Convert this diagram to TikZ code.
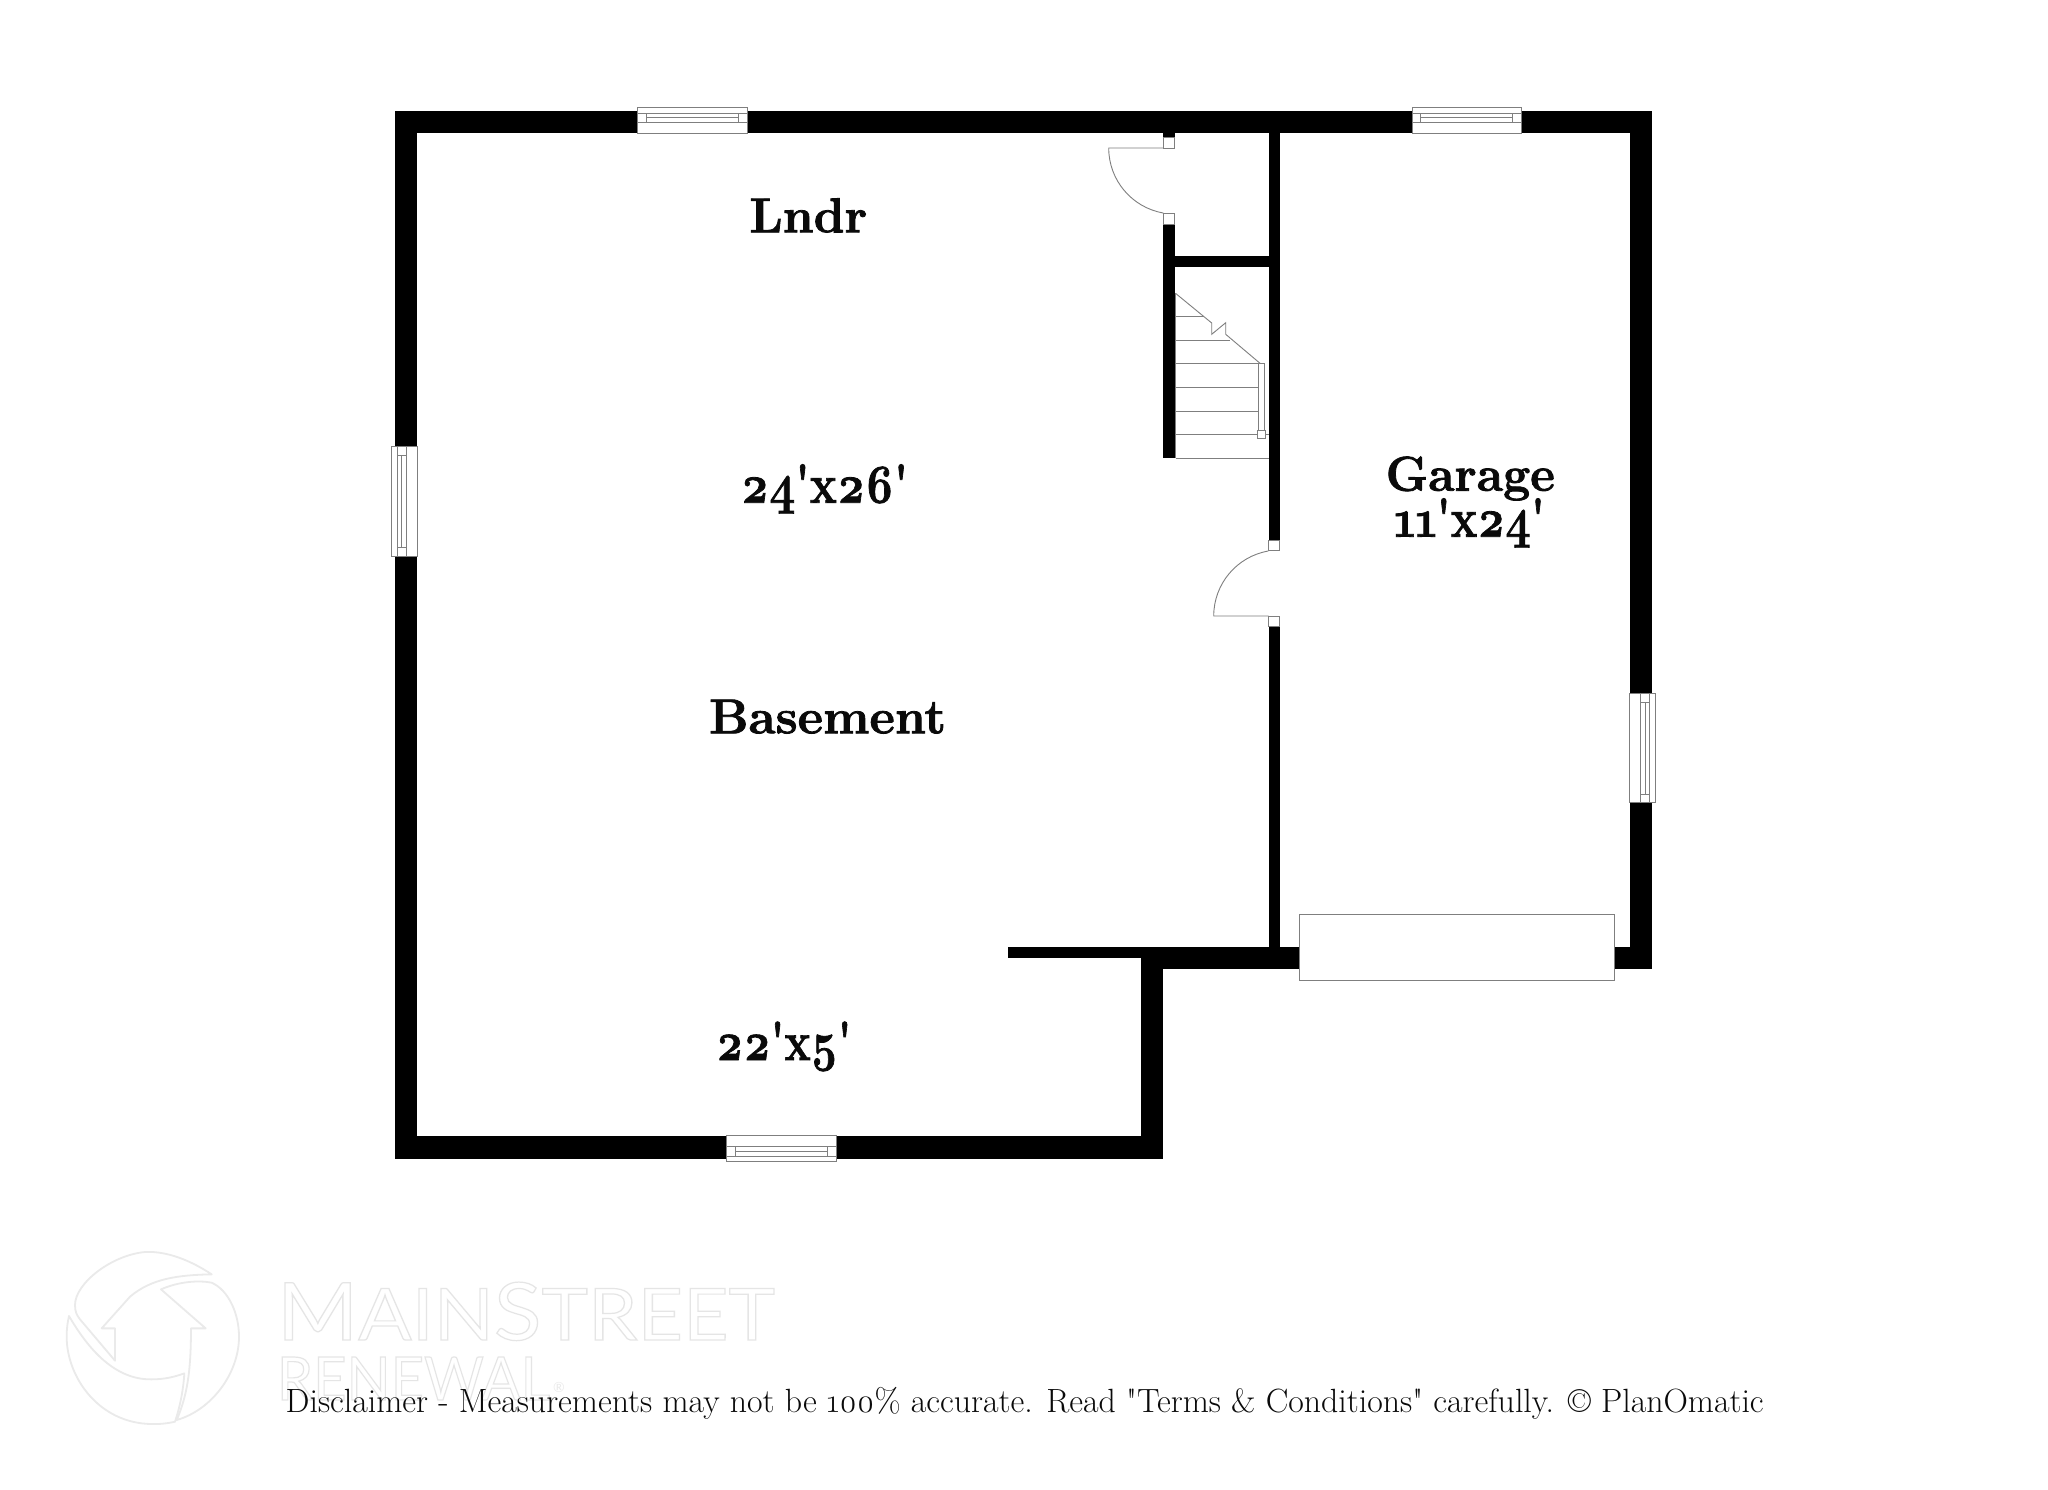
\documentclass[tikz,border=0pt]{standalone}
\usepackage{fontspec}
\usepackage{graphicx}
\newfontfamily\planfont{Latin Modern Roman}[Numbers=OldStyle]
\newfontfamily\markfont{Lato}
\newcommand{\fitw}[2]{\resizebox{#1}{\height}{#2}}
\newcommand{\outl}[1]{\special{pdf:code q 1 Tr 0.6 w 0.90 0.90 0.90 RG}#1\special{pdf:code Q}}
\newcommand{\heavy}[1]{\special{pdf:code q 2 Tr 0.4 w 0.04 0.04 0.04 RG}#1\special{pdf:code Q}}
\definecolor{edgegray}{HTML}{7F7F7F}
\definecolor{markgray}{HTML}{EAEAEA}
\definecolor{inkblack}{HTML}{0A0A0A}
\tikzset{
  wall/.style={fill=black,draw=none},
  fixture/.style={draw=edgegray,fill=white,line width=0.5pt},
  thinline/.style={draw=edgegray,line width=0.45pt},
  room/.style={inner sep=0pt,outer sep=0pt,anchor=base west,text=inkblack,font=\planfont\bfseries\fontsize{24.5}{24.5}\selectfont},
  dims/.style={inner sep=0pt,outer sep=0pt,anchor=base west,text=inkblack,font=\planfont\bfseries\fontsize{27.5}{27.5}\selectfont},
  note/.style={inner sep=0pt,outer sep=0pt,anchor=base west,text=inkblack,font=\planfont\fontsize{16.8}{16.8}\selectfont},
  brand/.style={inner sep=0pt,outer sep=0pt,anchor=base west,font=\markfont},
  swirl/.style={draw=markgray,line width=0.9pt,line join=round}
}
\begin{document}
\begin{tikzpicture}[x=0.5pt,y=-0.5pt]
\useasboundingbox (0,0) rectangle (2048,1489);
\fill[white] (0,0) rectangle (2048,1489);
% watermark logo
\begin{scope}[shift={(55,1240)},x=0.16667pt,y=-0.16667pt]
\draw[swirl] (470,103) .. controls (390,50) and (320,33) .. (270,36)
  .. controls (170,45) and (60,130) .. (60,195) .. controls (60,215) and (65,225) .. (75,238)
  -- (180,362) -- (180,265) -- (140,265) -- (225,170) .. controls (290,115) and (370,105) .. (470,103) -- cycle;
\draw[swirl] (318,148) .. controls (370,125) and (430,120) .. (470,128)
  .. controls (520,150) and (552,220) .. (552,290) .. controls (552,400) and (470,510) .. (365,540)
  .. controls (395,470) and (408,400) .. (408,265) -- (452,265) -- cycle;
\draw[swirl] (42,228) .. controls (90,310) and (170,420) .. (290,418)
  .. controls (330,418) and (360,410) .. (388,400) .. controls (385,450) and (375,500) .. (360,545)
  .. controls (340,550) and (310,553) .. (290,552) .. controls (130,550) and (35,410) .. (35,290)
  .. controls (35,265) and (38,245) .. (42,228) -- cycle;
\end{scope}
\node[brand] (wmMain) at (277,1340) {\fitw{249pt}{\outl{\fontsize{40}{40}\selectfont M\fontsize{36}{36}\selectfont AIN\fontsize{40}{40}\selectfont S\fontsize{36}{36}\selectfont TREET}}};
\node[brand] (wmRenewal) at (277,1400) {\fitw{136.5pt}{\outl{\fontsize{30}{30}\selectfont RENEWAL}}};
\node[brand,text=markgray,anchor=center,font=\markfont\fontsize{7}{7}\selectfont] (wmReg) at (559,1387) {®};
% walls
\fill[wall] (394.7,110.7) rectangle (1651.7,133);
\fill[wall] (394.7,110.7) rectangle (417,1158.7);
\fill[wall] (1629.5,110.7) rectangle (1651.7,969.3);
\fill[wall] (394.7,1135.7) rectangle (1163.3,1158.7);
\fill[wall] (1141,946.7) rectangle (1163.3,1158.7);
\fill[wall] (1008,946.7) rectangle (1163,958.3);
\fill[wall] (1141,946.7) rectangle (1651.7,969.3);
\fill[wall] (1268.5,133) rectangle (1279.7,540);
\fill[wall] (1268.5,626.7) rectangle (1279.7,946.7);
\fill[wall] (1163,133) rectangle (1174.7,137.3);
\fill[wall] (1163,224) rectangle (1174.7,458.3);
\fill[wall] (1174.7,256) rectangle (1268.5,267.3);
% windows: top
\foreach \xa/\xb/\xc/\xd in {637.7/747/646.7/738.7,1412.3/1521.3/1420.7/1512.7}{
  \draw[fixture] (\xa,107.3) rectangle (\xb,133);
  \draw[thinline] (\xa,113.3) -- (\xb,113.3) (\xa,122.3) -- (\xb,122.3);
  \draw[thinline] (\xc,113.3) -- (\xc,122.3) (\xd,113.3) -- (\xd,122.3) (\xc,117.7) -- (\xd,117.7);
}
% window: bottom
\draw[fixture] (726.7,1135.7) rectangle (836,1161.7);
\draw[thinline] (726.7,1146.7) -- (836,1146.7) (726.7,1156) -- (836,1156);
\draw[thinline] (735.3,1146.7) -- (735.3,1156) (827,1146.7) -- (827,1156) (735.3,1151) -- (827,1151);
% window: left
\draw[fixture] (391.3,446.3) rectangle (417,556);
\draw[thinline] (397,446.3) -- (397,556) (406,446.3) -- (406,556);
\draw[thinline] (397,455) -- (406,455) (397,547) -- (406,547) (401,455) -- (401,547);
% window: right
\draw[fixture] (1629.7,693.3) rectangle (1655.3,802.7);
\draw[thinline] (1640.7,693.3) -- (1640.7,802.7) (1649.3,693.3) -- (1649.3,802.7);
\draw[thinline] (1640.7,702) -- (1649.3,702) (1640.7,794) -- (1649.3,794) (1645,702) -- (1645,794);
% garage door
\draw[fixture] (1299.7,914.3) rectangle (1614.3,980);
% door jambs
\draw[fixture] (1163,137.3) rectangle (1174.7,148);
\draw[fixture] (1163,213.3) rectangle (1174.7,224);
\draw[fixture] (1268.5,540) rectangle (1279.7,550.7);
\draw[fixture] (1268.5,616) rectangle (1279.7,626.7);
% door swings
\draw[thinline] (1163,148) -- (1108.7,148) arc[start angle=180,end angle=100,x radius=66,y radius=66];
\draw[thinline] (1268.5,616) -- (1213.7,616) arc[start angle=180,end angle=260,x radius=66,y radius=66];
% stairs
\draw[thinline] (1175.5,293.3) -- (1204,316.7) -- (1211.7,323) -- (1211.7,334.3) -- (1225.7,322.7) -- (1225.7,334.3) -- (1260,363.3);
\draw[thinline] (1175.5,293.3) -- (1175.5,458.3);
\draw[thinline] (1175.5,316.7) -- (1204,316.7);
\draw[thinline] (1175.5,340) -- (1230,340);
\draw[thinline] (1175.5,363.7) -- (1258.7,363.7);
\draw[thinline] (1175.5,387.3) -- (1258.7,387.3);
\draw[thinline] (1175.5,411) -- (1258.7,411);
\draw[thinline] (1175.5,434.7) -- (1268.5,434.7);
\draw[thinline] (1175.5,458) -- (1268.5,458);
\draw[thinline] (1258.7,363.3) rectangle (1264.3,430.7);
\draw[fixture] (1257.7,430.7) rectangle (1265.3,438.7);
% labels
\node[room] (lndr) at (749.3,232.3) {\fitw{59pt}{\heavy{Lndr}}};
\node[dims] (dimA) at (740.7,502.7) {\fitw{83.8pt}{\heavy{24'x26'}}};
\node[room] (base) at (709,733.3) {\fitw{118.5pt}{\heavy{Basement}}};
\node[dims] (dimB) at (716,1060) {\fitw{67.8pt}{\heavy{22'x5'}}};
\node[room] (gar) at (1385.7,490.7) {\fitw{84.6pt}{\heavy{Garage}}};
\node[dims] (dimC) at (1394,536.7) {\fitw{75.5pt}{\heavy{11'x24'}}};
\node[note] (disc) at (285.7,1412.7) {\fitw{739pt}{Disclaimer - Measurements may not be 100\% accurate. Read "Terms \& Conditions" carefully. © PlanOmatic}};
\end{tikzpicture}
\end{document}
